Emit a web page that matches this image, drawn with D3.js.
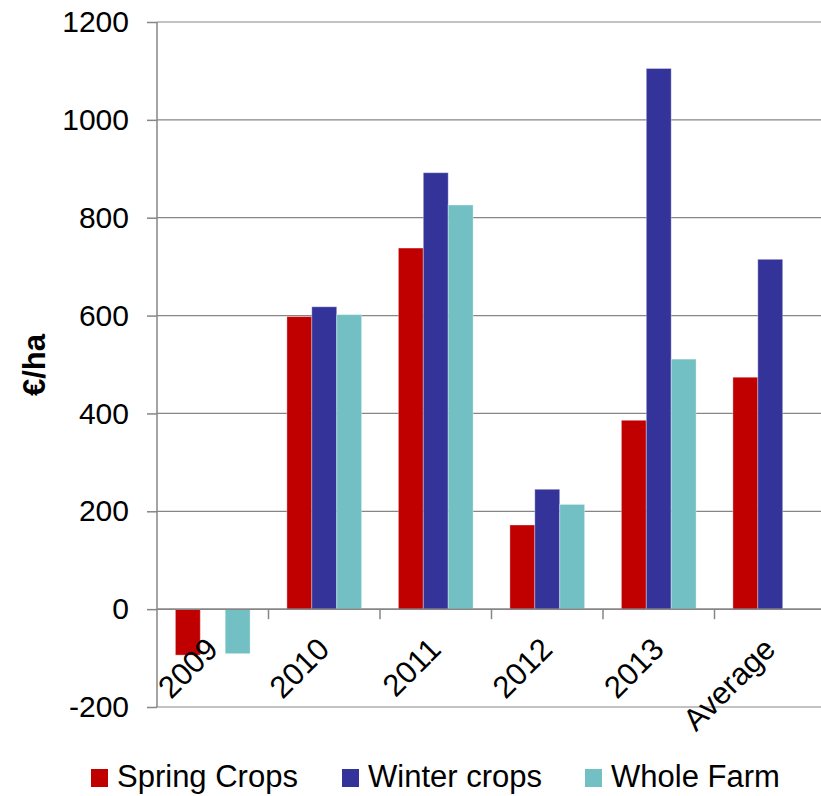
<!DOCTYPE html>
<html>
<head>
  <script src="https://d3js.org/d3.v7.min.js"></script>
  <style>
    body { margin: 0; background: #fff; }
    text { font-family: Arial, "Liberation Sans", sans-serif; }
  </style>
</head>
<body>
  <svg width="821" height="796"></svg>

  <script>
    // values (€/ha)
    const categories = ["2009", "2010", "2011", "2012", "2013", "Average"];
    const seriesNames = ["Spring Crops", "Winter crops", "Whole Farm"];
    const springCrops = [-94, 598, 738, 172, 386, 474];
    const winterCrops = [0, 618, 892, 245, 1105, 715];
    const wholeFarm = [-91, 602, 826, 214, 511, 0];
    const yTicks = [-200, 0, 200, 400, 600, 800, 1000, 1200];

    const colors = ["#c00000", "#333399", "#72c0c4"];
    const series = [springCrops, winterCrops, wholeFarm];

    const svg = d3.select("svg");
    const plotLeft = 157, plotRight = 826, plotTop = 22, plotBottom = 707;

    const y = d3.scaleLinear().domain([-200, 1200]).range([plotBottom, plotTop]);
    const x0 = d3.scaleBand().domain(categories).range([plotLeft, plotRight])
      .paddingInner(0.33).paddingOuter(0.165);
    const x1 = d3.scaleBand().domain(seriesNames).range([0, x0.bandwidth()]);

    // gridlines
    svg.append("g")
      .selectAll("line")
      .data(yTicks)
      .enter()
      .append("line")
      .attr("x1", plotLeft)
      .attr("x2", 821)
      .attr("y1", d => y(d))
      .attr("y2", d => y(d))
      .attr("stroke", "#868686")
      .attr("stroke-width", 1.2);

    // bars
    const rows = categories.map((c, i) => ({ cat: c, vals: series.map(s => s[i]) }));
    svg.append("g")
      .selectAll("g")
      .data(rows)
      .enter()
      .append("g")
      .attr("transform", d => "translate(" + x0(d.cat) + ",0)")
      .selectAll("rect")
      .data(d => d.vals.map((v, j) => ({ name: seriesNames[j], v: v, j: j })).filter(b => b.v !== 0))
      .enter()
      .append("rect")
      .attr("x", d => x1(d.name))
      .attr("width", x1.bandwidth())
      .attr("y", d => Math.min(y(d.v), y(0)))
      .attr("height", d => Math.abs(y(d.v) - y(0)))
      .attr("fill", d => colors[d.j])
      .attr("stroke", "rgba(255,255,255,0.35)")
      .attr("stroke-width", 1);

    // y axis
    const yAxis = svg.append("g")
      .attr("transform", "translate(" + plotLeft + ",0)")
      .call(d3.axisLeft(y).tickValues(yTicks).tickSize(10).tickPadding(18).tickFormat(d => String(d)));
    yAxis.selectAll("path, line").attr("stroke", "#868686").attr("stroke-width", 1.5);
    yAxis.select(".domain").attr("d", "M0," + plotTop + "V" + plotBottom);
    yAxis.selectAll("text")
      .attr("font-size", "30px")
      .attr("fill", "#000")
      .style("font-family", "Arial, 'Liberation Sans', sans-serif");

    // x axis: zero line with tick marks at category boundaries
    const zeroY = y(0);
    svg.append("line")
      .attr("x1", plotLeft).attr("x2", 821)
      .attr("y1", zeroY).attr("y2", zeroY)
      .attr("stroke", "#868686").attr("stroke-width", 1.5);
    const step = x0.step();
    svg.append("g")
      .selectAll("line")
      .data(categories.slice(1))
      .enter()
      .append("line")
      .attr("x1", (d, i) => plotLeft + (i + 1) * step)
      .attr("x2", (d, i) => plotLeft + (i + 1) * step)
      .attr("y1", zeroY)
      .attr("y2", zeroY + 10)
      .attr("stroke", "#868686").attr("stroke-width", 1.5);

    svg.append("g")
      .selectAll("text")
      .data(categories)
      .enter()
      .append("text")
      .attr("transform", d => "translate(" + (x0(d) + x0.bandwidth() / 2 + 7) + "," + (zeroY + 42) + ") rotate(-45)")
      .attr("text-anchor", "end")
      .attr("font-size", "31px")
      .attr("fill", "#000")
      .text(d => d);

    // y axis title
    svg.append("text")
      .attr("transform", "translate(45,365) rotate(-90)")
      .attr("text-anchor", "middle")
      .attr("font-size", "31px")
      .attr("font-weight", "bold")
      .text("€/ha");

    // legend
    const legendX = [91, 342, 585];
    const legend = svg.append("g")
      .selectAll("g")
      .data(seriesNames)
      .enter()
      .append("g")
      .attr("transform", (d, i) => "translate(" + legendX[i] + ",769)");
    legend.append("rect")
      .attr("width", 17)
      .attr("height", 18)
      .attr("fill", (d, i) => colors[i]);
    legend.append("text")
      .attr("x", 26)
      .attr("y", 18)
      .attr("font-size", "31px")
      .text(d => d);
  </script>
</body>
</html>
